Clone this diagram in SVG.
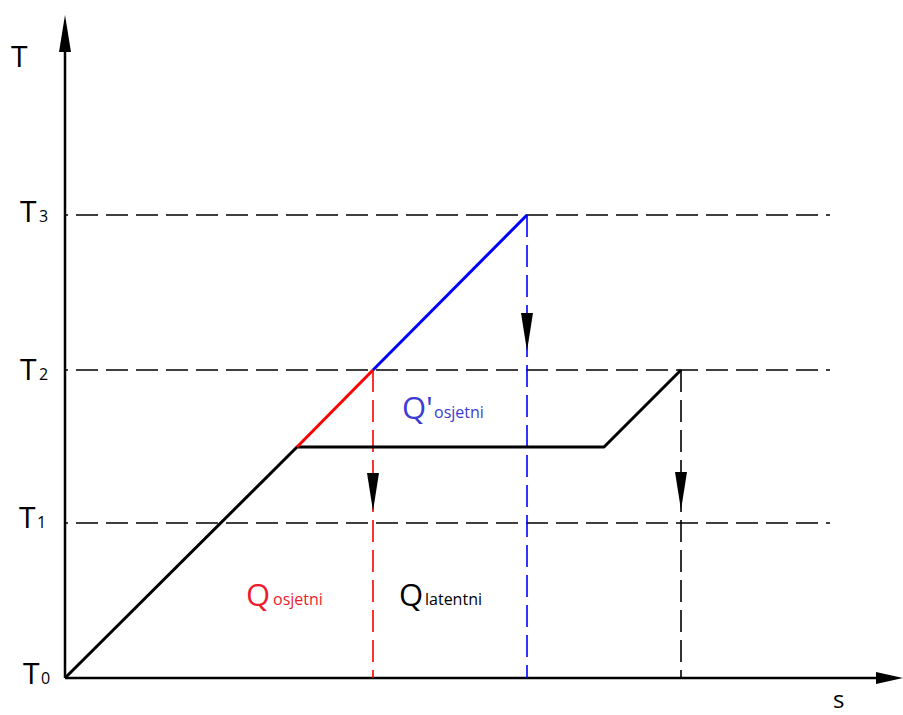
<svg xmlns="http://www.w3.org/2000/svg" xmlns:xlink="http://www.w3.org/1999/xlink" width="903" height="715" viewBox="0 0 903 715">
<style>
.axis{stroke:#000;stroke-width:2.5;fill:none}
.grid{stroke:#000;stroke-width:1.6;fill:none;stroke-dasharray:22 8}
.curve{stroke:#000;stroke-width:3;fill:none;stroke-linejoin:round}
.red{stroke:#ff0000;stroke-width:3;fill:none}
.blue{stroke:#0000ff;stroke-width:3;fill:none}
.vr{stroke:#ff0000;stroke-width:1.6;fill:none;stroke-dasharray:22 8}
.vb{stroke:#0000ff;stroke-width:1.6;fill:none;stroke-dasharray:22 8}
.vk{stroke:#000;stroke-width:1.6;fill:none;stroke-dasharray:22 8}
.lbl{font-family:"Open Sans","Noto Sans",sans-serif;fill:#000}
.big{font-size:30px}
.sub{font-size:16px}
.q{font-size:31px;font-weight:500}
.rq{fill:#ee1c2e}
.bq{fill:#3c3cd2}
</style>
<defs>
<path id="down" d="M-6,0 L6,0 L0,38 Z" fill="#000"/>
</defs>
<g id="grid-lines">
<line class="grid" x1="65" y1="215" x2="830" y2="215" stroke-dashoffset="19"/>
<line class="grid" x1="65" y1="370" x2="830" y2="370" stroke-dashoffset="19"/>
<line class="grid" x1="65" y1="523" x2="830" y2="523" stroke-dashoffset="19"/>
</g>
<g id="axes">
<line class="axis" x1="65" y1="678" x2="65" y2="45"/>
<polygon points="65,15 59,52 71,52" fill="#000"/>
<line class="axis" x1="65" y1="678" x2="880" y2="678"/>
<polygon points="876,672 876,684 903,678" fill="#000"/>
</g>
<g id="connectors">
<line class="vr" x1="373" y1="370" x2="373" y2="678"/>
<line class="vb" x1="527" y1="215" x2="527" y2="678"/>
<line class="vk" x1="681" y1="370" x2="681" y2="678"/>
<use xlink:href="#down" x="373" y="473"/>
<use xlink:href="#down" x="527" y="313"/>
<use xlink:href="#down" x="681" y="472"/>
</g>
<g id="curve">
<polyline class="curve" points="65,678 297,447 604,447 681,370"/>
<line class="red" x1="297" y1="447" x2="373" y2="370"/>
<line class="blue" x1="373" y1="370" x2="527" y2="215"/>
</g>
<g id="labels">
<text class="lbl big" x="11" y="67">T</text>
<text class="lbl big" x="20" y="222">T</text><text class="lbl sub" x="39" y="222">3</text>
<text class="lbl big" x="20" y="380">T</text><text class="lbl sub" x="39" y="380">2</text>
<text class="lbl big" x="19" y="528">T</text><text class="lbl sub" x="37" y="528">1</text>
<text class="lbl big" x="23" y="684">T</text><text class="lbl sub" x="41" y="684">0</text>
<text class="lbl" style="font-size:24px" x="833" y="708">s</text>
</g>
<g id="q-osjetni">
<text class="lbl q rq" x="246" y="606">Q</text>
<text class="lbl sub rq" x="273" y="605">osjetni</text>
</g>
<g id="q-latentni">
<text class="lbl q" x="399" y="606">Q</text>
<text class="lbl sub" x="425" y="605">latentni</text>
</g>
<g id="q-prime-osjetni">
<text class="lbl q bq" x="402" y="419">Q</text>
<text class="lbl q bq" x="426" y="419">'</text>
<text class="lbl sub bq" x="434" y="418">osjetni</text>
</g>
</svg>
